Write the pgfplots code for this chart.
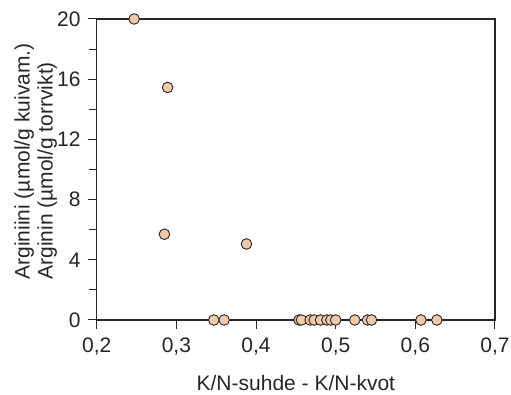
\documentclass[border=0pt]{standalone}
\usepackage{fontspec}
\setmainfont{Liberation Sans}
\usepackage{pgfplots}
\pgfplotsset{compat=1.18}
\definecolor{peach}{HTML}{F2C8A6}
\definecolor{txt}{HTML}{262626}
\begin{document}
\fontsize{21}{23}\selectfont
\begin{tikzpicture}
\begin{axis}[
  name=ax,
  scale only axis,
  width=398.3pt, height=301pt,
  xmin=0.2, xmax=0.7, ymin=0, ymax=20,
  xtick={0.2,0.3,0.4,0.5,0.6,0.7},
  ytick={0,4,8,12,16,20},
  minor ytick={2,6,10,14,18},
  tick pos=left,
  tick align=outside,
  major tick length=9pt,
  minor tick length=8pt,
  every tick/.style={line width=1pt, txt},
  axis line style={line width=1.1pt, txt},
  x tick label style={/pgf/number format/use comma, /pgf/number format/fixed, /pgf/number format/fixed zerofill, /pgf/number format/precision=1, yshift=-2pt},
  /pgf/number format/assume math mode=true,
  ticklabel style={font=\fontsize{21}{23}\selectfont, text=txt},
  clip=false,
  xlabel={K/N-suhde - K/N-kvot},
  xlabel style={font=\fontsize{21}{23}\selectfont, text=txt, at={(rel axis cs:0.5,0)}, anchor=north, yshift=-48pt},
  ylabel={Arginiini (µmol/g kuivam.)\\Arginin (µmol/g torrvikt)},
  ylabel style={font=\fontsize{21}{23}\selectfont, text=txt, align=left, at={(rel axis cs:0,0.5)}, anchor=center, xshift=8pt, yshift=61pt},
]
\addplot[only marks, mark=*, mark size=5.3pt, mark options={fill=peach, draw=txt, line width=0.9pt}] coordinates {
  (0.247,20) (0.289,15.45) (0.285,5.7) (0.388,5.05)
  (0.347,0) (0.360,0) (0.454,0) (0.457,0) (0.468,0) (0.473,0)
  (0.481,0) (0.489,0) (0.494,0) (0.500,0) (0.524,0) (0.540,0)
  (0.545,0) (0.607,0) (0.627,0)
};
\end{axis}
\pgfresetboundingbox
\path[use as bounding box] ([shift={(-96.7pt,-75pt)}]ax.south west) rectangle ([shift={(414.3pt,320pt)}]ax.south west);
\end{tikzpicture}
\end{document}
